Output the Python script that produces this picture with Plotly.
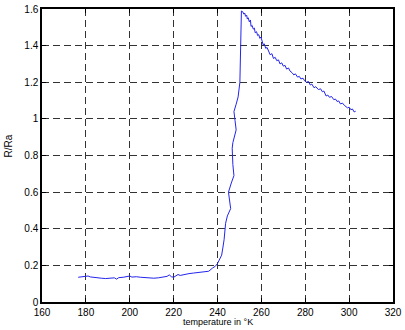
import plotly.graph_objects as go

temperature = [176.5, 178, 179, 180, 181, 182, 183, 185, 187, 189, 191, 193, 194, 195, 197, 199,
               200, 201, 203, 205, 207, 209, 211, 213, 215, 217, 218, 219, 220, 221, 222, 223,
               225, 227, 229, 231, 232, 234, 236, 237.7, 239, 240, 241, 241.9, 242.5, 243,
               243.7, 244.5, 246, 245.5, 245, 246.3, 247.5, 247, 246.7, 246.7, 247, 248.5, 248,
               247.5, 248.5, 249.4, 250.2, 250.3, 250.5, 250.7, 250.9,
               251.5, 252, 252.4, 252.8, 253.3, 253.6, 254, 254.5, 255, 255.3, 255.8, 256.3,
               256.8, 257.2, 257.8, 258.3, 258.8, 259.3, 259.8, 260.3, 260.8, 261.3, 262, 262.6,
               263.4, 264, 264.8, 265.5, 266.3, 267, 267.8, 268.5, 269.3, 270, 270.8, 271.5,
               272.4, 273, 274, 274.8, 275.5, 276.5, 277.3, 278, 279, 279.7, 280.5, 281.5, 282.3,
               283, 284, 284.8, 286, 287, 287.8, 288.5, 289.5, 290.3, 291, 292, 293, 293.8,
               294.5, 295.3, 296, 297, 297.8, 298.5, 299.3, 300, 300.8, 301.5, 302.3, 303]
resistance_ratio = [0.135, 0.136, 0.140, 0.138, 0.142, 0.137, 0.135, 0.133, 0.130, 0.128, 0.130,
                    0.132, 0.125, 0.133, 0.135, 0.138, 0.142, 0.136, 0.138, 0.135, 0.133, 0.135,
                    0.130, 0.132, 0.136, 0.140, 0.148, 0.138, 0.135, 0.142, 0.150, 0.145, 0.152,
                    0.155, 0.158, 0.160, 0.165, 0.163, 0.168, 0.185, 0.195, 0.210, 0.230, 0.256,
                    0.300, 0.340, 0.430, 0.470, 0.510, 0.550, 0.600, 0.650, 0.690, 0.750, 0.800,
                    0.840, 0.870, 0.940, 0.990, 1.040, 1.080, 1.120, 1.200, 1.300, 1.400, 1.500,
                    1.589,
                    1.585, 1.572, 1.578, 1.560, 1.566, 1.545, 1.552, 1.530, 1.540, 1.505, 1.510,
                    1.490, 1.496, 1.470, 1.476, 1.455, 1.460, 1.440, 1.447, 1.415, 1.405, 1.410,
                    1.385, 1.390, 1.365, 1.350, 1.356, 1.330, 1.336, 1.318, 1.322, 1.300, 1.306,
                    1.288, 1.292, 1.272, 1.278, 1.262, 1.252, 1.240, 1.246, 1.228, 1.232, 1.218,
                    1.222, 1.208, 1.200, 1.204, 1.185, 1.190, 1.170, 1.176, 1.160, 1.164, 1.148,
                    1.152, 1.125, 1.130, 1.118, 1.122, 1.105, 1.108, 1.095, 1.098, 1.082, 1.086,
                    1.074, 1.068, 1.060, 1.064, 1.050, 1.054, 1.038, 1.042, 1.026, 1.028, 1.014,
                    1.010, 1.002]

x_ticks = [160, 180, 200, 220, 240, 260, 280, 300, 320]
y_ticks = [0, 0.2, 0.4, 0.6, 0.8, 1.0, 1.2, 1.4, 1.6]
y_tick_text = ["0", "0.2", "0.4", "0.6", "0.8", "1", "1.2", "1.4", "1.6"]

fig = go.Figure()
fig.add_trace(go.Scatter(x=temperature, y=resistance_ratio, mode="lines",
                         line=dict(color="#2424ee", width=1), showlegend=False))

axis_common = dict(showline=True, linecolor="black", linewidth=1.5, mirror="ticks",
                   ticks="inside", ticklen=4, tickcolor="black", tickwidth=1,
                   showgrid=True, gridcolor="#333333", gridwidth=1, griddash="7px,4px",
                   zeroline=False, ticklabeloverflow="allow",
                   tickfont=dict(family="Liberation Sans, Arial", size=10, color="black"))

fig.update_xaxes(range=[160, 320], tickvals=x_ticks, **axis_common)
fig.update_yaxes(range=[0, 1.6], tickvals=y_ticks, ticktext=y_tick_text, **axis_common)

fig.update_layout(
    width=405, height=330,
    margin=dict(l=42, r=10, t=3, b=28),
    paper_bgcolor="white", plot_bgcolor="white",
    annotations=[
        dict(text="temperature in °K", xref="paper", yref="paper", x=0.5, y=-0.093,
             xanchor="center", yanchor="bottom", showarrow=False,
             font=dict(family="Liberation Sans, Arial", size=9, color="black")),
        dict(text="R/Ra", xref="paper", yref="paper", x=-0.095, y=0.533, textangle=-90,
             xanchor="center", yanchor="middle", showarrow=False,
             font=dict(family="Liberation Sans, Arial", size=10, color="black")),
    ],
)

fig.write_html("out.html")
